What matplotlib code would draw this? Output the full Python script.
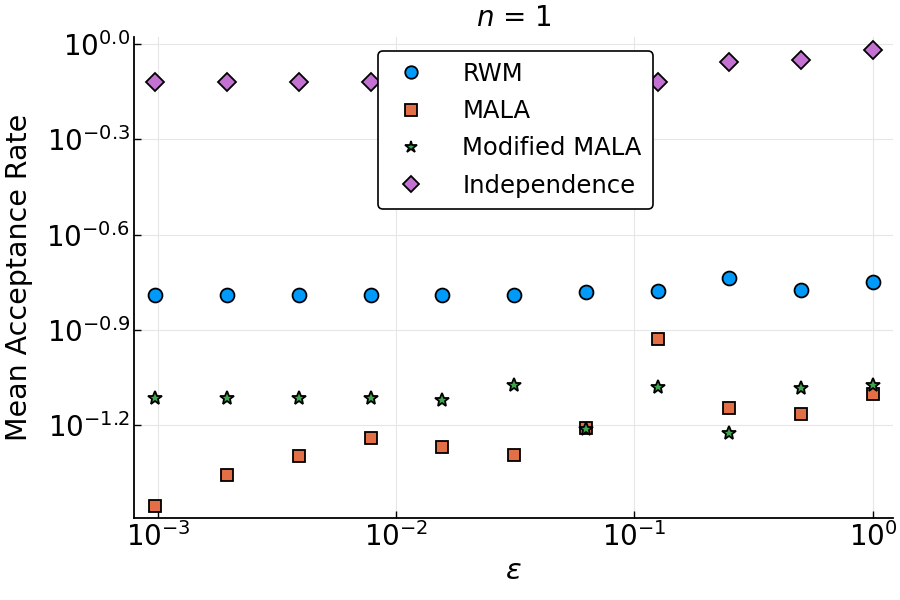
import numpy as np
import matplotlib.pyplot as plt
from matplotlib.ticker import FixedLocator, NullLocator

# epsilon = 2^-k, k = 10..0
eps = [2.0 ** -k for k in range(10, -1, -1)]

# log10 of mean acceptance rate
rwm = [-0.789, -0.789, -0.789, -0.789, -0.789, -0.789, -0.781, -0.777, -0.737, -0.774, -0.749]
mala = [-1.454, -1.357, -1.297, -1.240, -1.268, -1.294, -1.209, -0.929, -1.146, -1.165, -1.102]
mod_mala = [-1.114, -1.114, -1.114, -1.114, -1.121, -1.073, -1.212, -1.080, -1.224, -1.083, -1.073]
indep = [-0.120, -0.120, -0.120, -0.120, -0.120, -0.120, -0.120, -0.120, -0.057, -0.050, -0.019]

ytick_exp = [0.0, -0.3, -0.6, -0.9, -1.2]
ytick_labels = [r'$10^{0.0}$', r'$10^{-0.3}$', r'$10^{-0.6}$', r'$10^{-0.9}$', r'$10^{-1.2}$']
xtick_vals = [1e-3, 1e-2, 1e-1, 1e0]
xtick_labels = [r'$10^{-3}$', r'$10^{-2}$', r'$10^{-1}$', r'$10^{0}$']

fig = plt.figure(figsize=(9, 6), dpi=100)
ax = fig.add_axes([0.149, 0.137, 0.843, 0.801])

kw = dict(linestyle='none', markeredgecolor='black', markeredgewidth=1.3)
ax.plot(eps, 10 ** np.array(rwm), marker='o', markersize=10, color='#009AFA', label='RWM', **kw)
ax.plot(eps, 10 ** np.array(mala), marker='s', markersize=9, color='#E36F47', label='MALA', **kw)
ax.plot(eps, 10 ** np.array(mod_mala), marker='*', markersize=10, color='#3EA44E', label='Modified MALA', **kw)
ax.plot(eps, 10 ** np.array(indep), marker='D', markersize=9, color='#C371D2', label='Independence', **kw)

ax.set_xscale('log')
ax.set_yscale('log')
ax.set_xlim(10 ** -3.10, 10 ** 0.084)
ax.set_ylim(10 ** -1.492, 10 ** 0.022)

ax.yaxis.set_major_locator(FixedLocator([10 ** e for e in ytick_exp]))
ax.set_yticklabels(ytick_labels)
ax.yaxis.set_minor_locator(NullLocator())
ax.xaxis.set_major_locator(FixedLocator(xtick_vals))
ax.set_xticklabels(xtick_labels)
ax.xaxis.set_minor_locator(NullLocator())

ax.tick_params(direction='in', labelsize=20, length=5, width=1, pad=3)
ax.grid(True, color='#e6e6e6', linewidth=0.8)
ax.set_axisbelow(True)
for s in ['top', 'right']:
    ax.spines[s].set_visible(False)
for s in ['left', 'bottom']:
    ax.spines[s].set_linewidth(1.3)

ax.set_xlabel(r'$\varepsilon$', fontsize=21, labelpad=4)
ax.set_ylabel('Mean Acceptance Rate', fontsize=20.5, labelpad=10)
ax.set_title(r'$n$ = 1', fontsize=20, pad=8)

leg = ax.legend(loc='upper left', bbox_to_anchor=(0.306, 0.997), fontsize=17.5,
                framealpha=1, edgecolor='black', fancybox=True, borderpad=0.45,
                labelspacing=0.55, handletextpad=1.2, handlelength=1.8, markerscale=0.9)
leg.get_frame().set_linewidth(1.2)
leg.set_zorder(10)

fig.savefig('out.png', dpi=100)
